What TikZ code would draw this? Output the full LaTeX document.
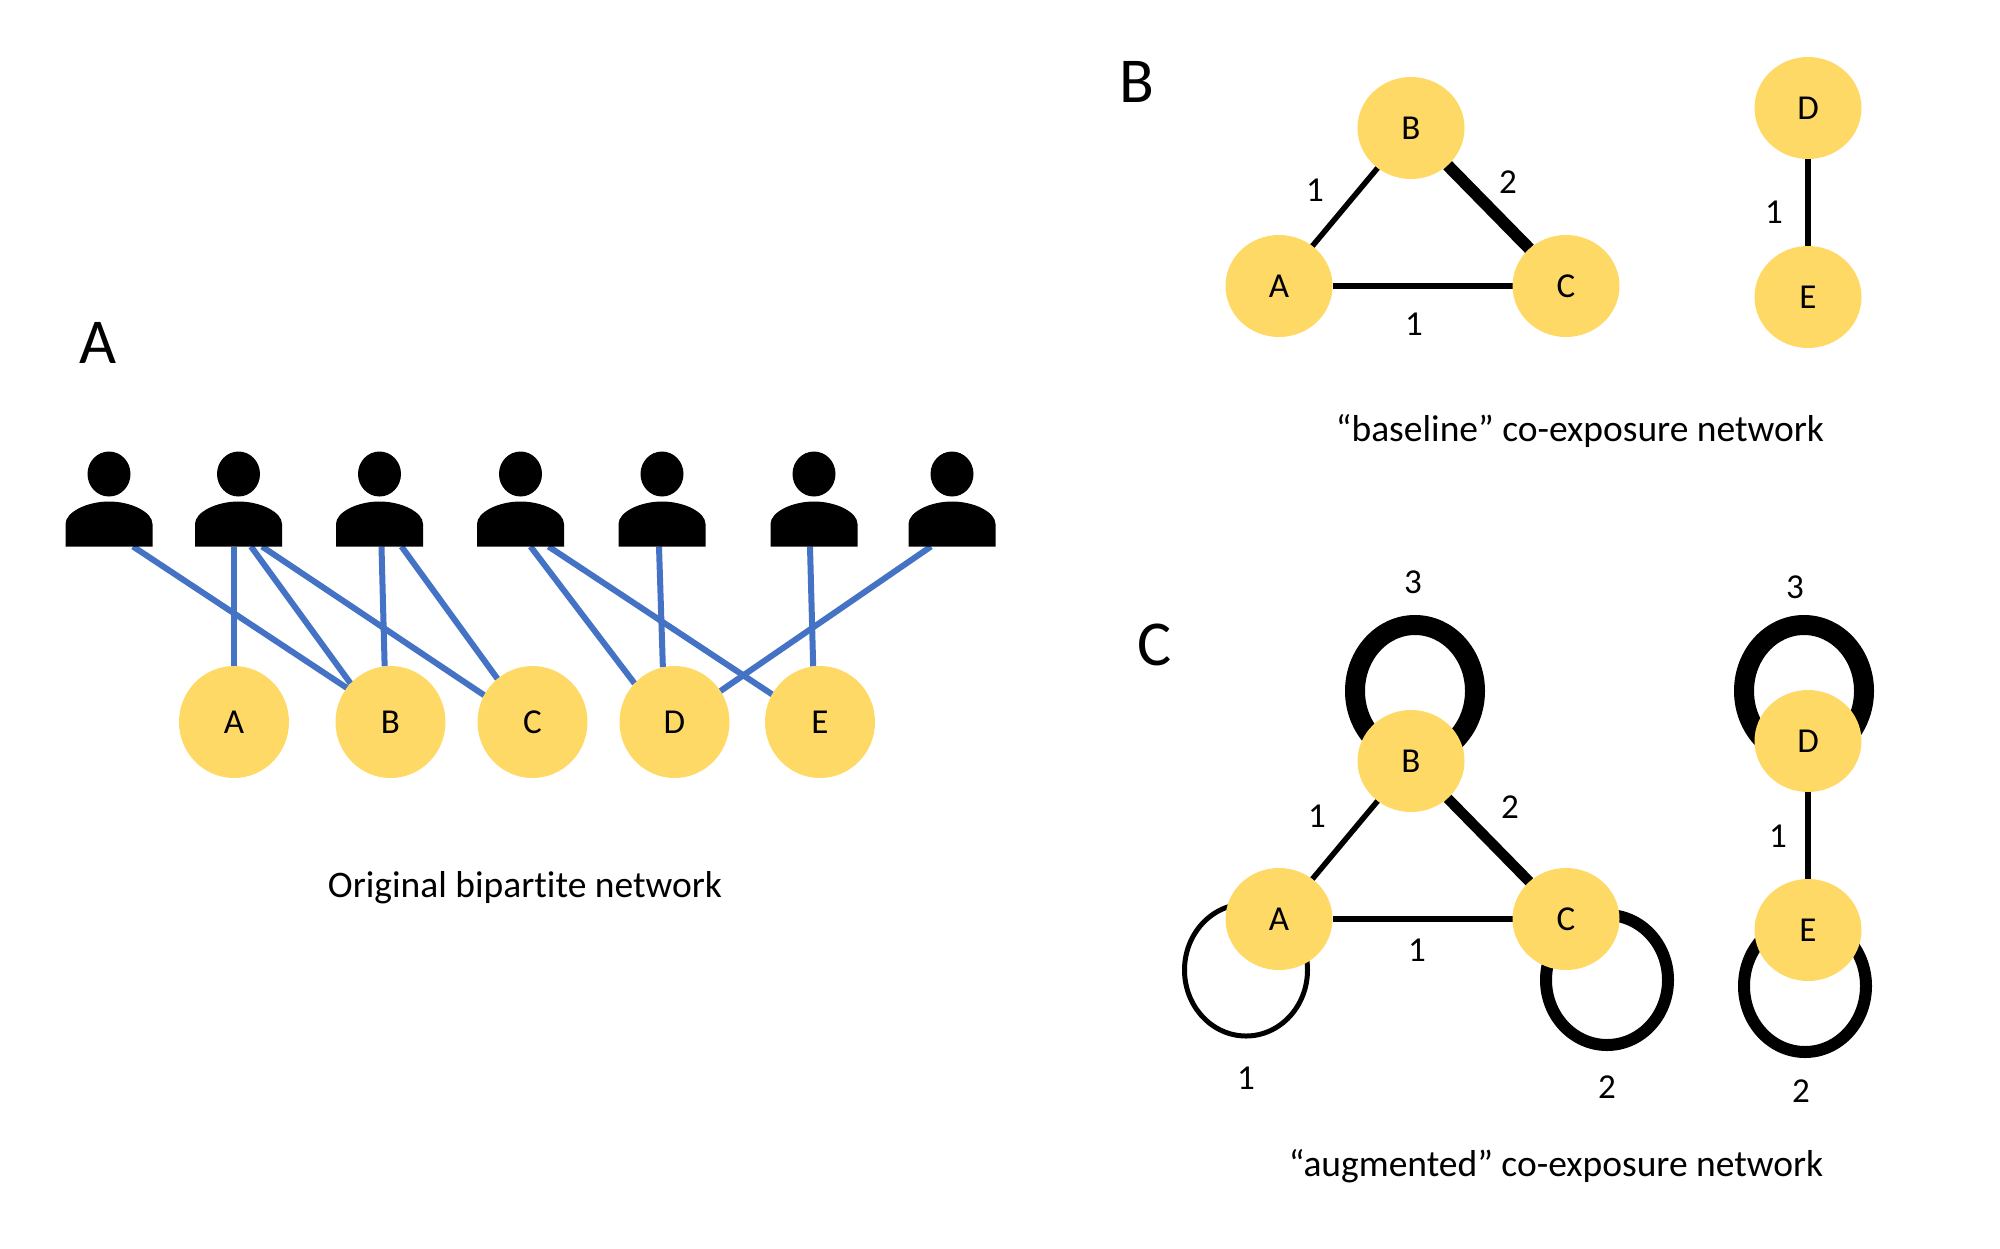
\documentclass[tikz,border=0pt]{standalone}
\usepackage{fontspec}
\setmainfont[Ligatures=NoCommon]{Carlito}
\usetikzlibrary{shapes.geometric,backgrounds}
\definecolor{nodeyellow}{HTML}{FFD966}
\definecolor{linkblue}{HTML}{4472C4}
\tikzset{
  vert/.style={ellipse,fill=nodeyellow,inner sep=0pt,outer sep=0pt,minimum width=110pt,minimum height=112pt,font=\fontsize{35}{35}\selectfont},
  vertb/.style={ellipse,fill=nodeyellow,inner sep=0pt,outer sep=0pt,minimum width=107pt,minimum height=102pt,font=\fontsize{35}{35}\selectfont},
  head/.style={ellipse,fill=black,inner sep=0pt,outer sep=0pt,minimum width=43pt,minimum height=45pt},
  body/.style={rectangle,inner sep=0pt,outer sep=0pt,minimum width=87pt,minimum height=45pt,
    path picture={\fill[black] (-43.5,22.5) -- (-43.5,0) .. controls (-43.5,-12) and (-22,-22.5) .. (0,-22.5) .. controls (22,-22.5) and (43.5,-12) .. (43.5,0) -- (43.5,22.5) -- cycle;}},
  link/.style={draw=linkblue,line width=6pt},
  tie/.style={draw=black,line width=#1},
  selfloop/.style={ellipse,draw=black,fill=none,inner sep=0pt,outer sep=0pt,line width=#1},
  lbl/.style={inner sep=0pt,font=\fontsize{35}{35}\selectfont},
  captext/.style={inner sep=0pt,font=\fontsize{37.5}{37.5}\selectfont},
  panel/.style={inner sep=0pt,font=\fontsize{64}{64}\selectfont},
}
\newcommand{\person}[3]{%
  \node[head] (#1h) at (#2,#3) {};
  \node[body] (#1) at (#2,#3+50) {};
}
\begin{document}
\begin{tikzpicture}[x=1pt,y=-1pt]
\useasboundingbox (0,0) rectangle (2000,1248);
% Panel A
\node[panel] (labA) at (98,343) {A};
\person{p1}{109}{474}
\person{p2}{238.5}{474}
\person{p3}{379.5}{474}
\person{p4}{520.5}{474}
\person{p5}{662}{474}
\person{p6}{814}{474}
\person{p7}{952}{474}
\node[vert] (aA) at (234,722) {A};
\node[vert] (aB) at (390.5,722) {B};
\node[vert] (aC) at (532.5,722) {C};
\node[vert] (aD) at (674.5,722) {D};
\node[vert] (aE) at (820,722) {E};
\node[captext] (capA) at (525,888) {Original bipartite network};
\begin{pgfonlayer}{background}
\draw[link] ([xshift=24pt]p1.south) -- (aB.142);
\draw[link] ([xshift=-4.5pt]p2.south) -- (aA.90);
\draw[link] ([xshift=12.5pt]p2.south) -- (aB.136);
\draw[link] ([xshift=23.5pt]p2.south) -- (aC.151);
\draw[link] ([xshift=2pt]p3.south) -- (aB.96);
\draw[link] ([xshift=22pt]p3.south) -- (aC.129);
\draw[link] ([xshift=10pt]p4.south) -- (aD.136);
\draw[link] ([xshift=28pt]p4.south) -- (aE.150);
\draw[link] ([xshift=-3pt]p5.south) -- (aD.102);
\draw[link] ([xshift=-4pt]p6.south) -- (aE.97);
\draw[link] ([xshift=-21pt]p7.south) -- (aD.34);
\end{pgfonlayer}
% Panel B
\node[panel] (labB) at (1137,82) {B};
\node[vertb] (bA) at (1279,286) {A};
\node[vertb] (bB) at (1411,128) {B};
\node[vertb] (bC) at (1566,286) {C};
\node[vertb] (bD) at (1808,108) {D};
\node[vertb] (bE) at (1808,297) {E};
\begin{pgfonlayer}{background}
\draw[tie=5.5pt] (bA) -- (bB);
\draw[tie=12pt] (bB) -- (bC);
\draw[tie=6pt] (bA) -- (bC);
\draw[tie=6pt] (bD) -- (bE);
\end{pgfonlayer}
\node[lbl] (bl1) at (1315,190) {1};
\node[lbl] (bl2) at (1508,182) {2};
\node[lbl] (bl3) at (1414,324) {1};
\node[lbl] (bl4) at (1774,212) {1};
\node[captext] (capB) at (1580,431) {“baseline” co-exposure network};
% Panel C
\node[panel] (labC) at (1155,645) {C};
\node[vertb] (cA) at (1279,919) {A};
\node[vertb] (cB) at (1411,761) {B};
\node[vertb] (cC) at (1566,919) {C};
\node[vertb] (cD) at (1808,741) {D};
\node[vertb] (cE) at (1808,930) {E};
\begin{pgfonlayer}{background}
\draw[tie=5.5pt] (cA) -- (cB);
\draw[tie=10.5pt] (cB) -- (cC);
\draw[tie=6pt] (cA) -- (cC);
\draw[tie=6pt] (cD) -- (cE);
\node[selfloop=20pt,minimum width=120pt,minimum height=132pt] (lB) at (1415,691) {};
\node[selfloop=20pt,minimum width=120pt,minimum height=132pt] (lD) at (1804,691) {};
\node[selfloop=5pt,minimum width=123pt,minimum height=132pt] (lA) at (1246,970) {};
\node[selfloop=12pt,minimum width=122pt,minimum height=130pt] (lC) at (1607,980) {};
\node[selfloop=12pt,minimum width=122pt,minimum height=132pt] (lE) at (1805,986) {};
\end{pgfonlayer}
\node[lbl] (cl1) at (1317,816) {1};
\node[lbl] (cl2) at (1510,807) {2};
\node[lbl] (cl3) at (1417,950) {1};
\node[lbl] (cl4) at (1778,836) {1};
\node[lbl] (cl5) at (1413,582) {3};
\node[lbl] (cl6) at (1795,587) {3};
\node[lbl] (cl7) at (1246,1078) {1};
\node[lbl] (cl8) at (1607,1087) {2};
\node[lbl] (cl9) at (1801,1091) {2};
\node[captext] (capC) at (1556,1166) {“augmented” co-exposure network};
\end{tikzpicture}
\end{document}
